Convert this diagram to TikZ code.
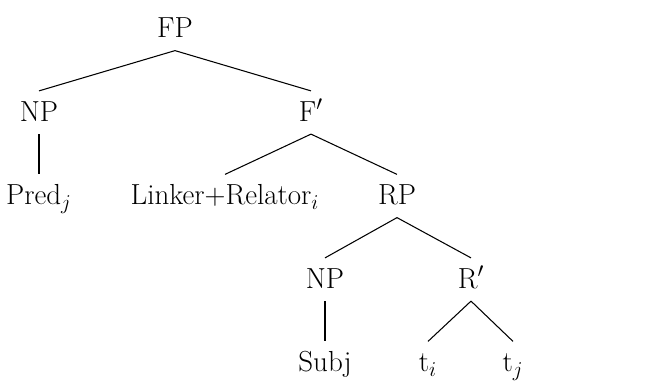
\documentclass[tikz,border=0pt]{standalone}
\usepackage{tikz}
\usetikzlibrary{positioning}

\begin{document}
\begin{tikzpicture}[
            on grid,
            line width = 0.6pt,
            font = \fontsize{16.5}{20}\selectfont
        ]

        \tikzstyle{cat}=[
            inner sep = 3pt,
            text height = 14pt,
            text depth = 4pt
        ]
        \useasboundingbox (0, 0) rectangle (13.14, -7.62);

        \node[cat] (fp) at (3.5, -0.58) {FP};
        \node[cat] (np1) [below left=1.67cm and 2.72cm of fp] {NP};
        \node[cat] (fbar) [below right=1.67cm and 2.72cm of fp] {F$'$};
        \node[cat] (pred) [below=1.67cm of np1] {Pred$_j$};
        \node[cat] (linker) [below left=1.67cm and 1.72cm of fbar] {Linker+Relator$_i$};
        \node[cat] (rp) [below right=1.67cm and 1.72cm of fbar] {RP};
        \node[cat] (np2) [below left=1.67cm and 1.44cm of rp] {NP};
        \node[cat] (rbar) [below right=1.67cm and 1.48cm of rp] {R$'$};
        \node[cat] (subj) [below=1.67cm of np2] {Subj};
        \node[cat] (ti) [below left=1.67cm and 0.86cm of rbar] {t$_i$};
        \node[cat] (tj) [below right=1.67cm and 0.84cm of rbar] {t$_j$};

        \path (fp.south) edge (np1.north);
        \path (fp.south) edge (fbar.north);
        \path (np1.south) edge (pred.north);
        \path (fbar.south) edge (linker.north);
        \path (fbar.south) edge (rp.north);
        \path (rp.south) edge (np2.north);
        \path (rp.south) edge (rbar.north);
        \path (np2.south) edge (subj.north);
        \path (rbar.south) edge (ti.north);
        \path (rbar.south) edge (tj.north);
    \end{tikzpicture}
\end{document}
